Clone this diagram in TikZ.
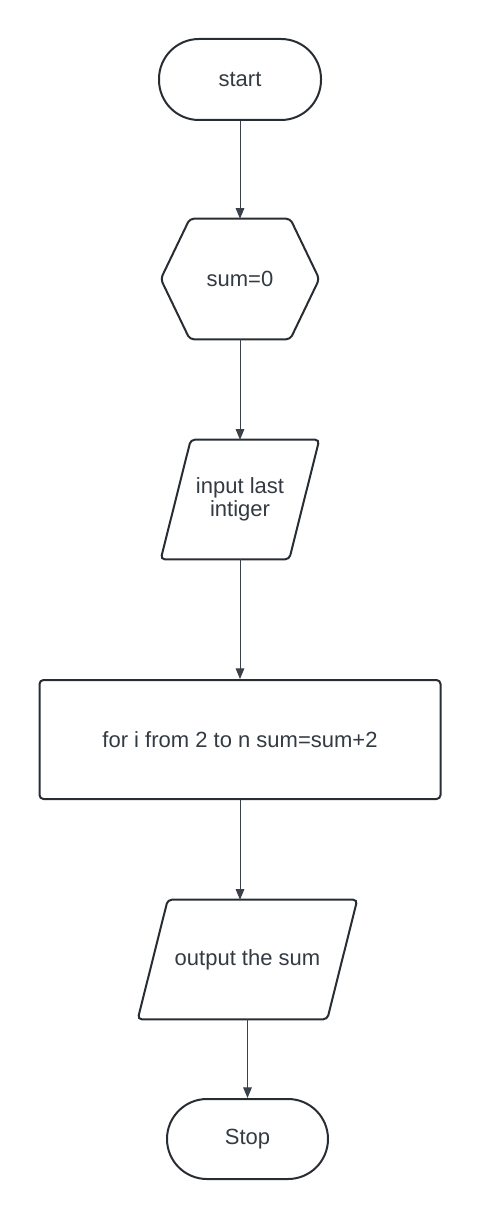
\documentclass[tikz,border=0pt]{standalone}
\usepackage{fontspec}
\setmainfont{Liberation Sans}
\usetikzlibrary{arrows.meta}
\definecolor{linecol}{HTML}{282C33}
\definecolor{textcol}{HTML}{333A42}
\definecolor{arrcol}{HTML}{3A414A}

\begin{document}
\begin{tikzpicture}[x=0.75pt, y=-0.75pt,
	every node/.style={font=\fontsize{16.5pt}{17.5pt}\selectfont, text=textcol},
	term/.style={draw=linecol, line width=1.5pt, rounded corners=30pt, minimum width=121.5pt, minimum height=60.75pt},
	box/.style={draw=linecol, line width=1.5pt, rounded corners=3pt, minimum width=300.75pt, minimum height=89.25pt},
	blank/.style={inner sep=0pt},
	outline/.style={draw=linecol, line width=1.5pt, rounded corners=3pt},
	arr/.style={draw=arrcol, line width=0.75pt, -{Triangle[length=8pt, width=6.5pt]}}]
	\useasboundingbox (0,0) rectangle (480,1220);

	% Nodes
	\node[term] (start) at (240,79.5) {start};
	\node[blank, minimum width=118.5pt, minimum height=90pt] (init) at (240,279) {sum=0};
	\node[blank, minimum width=118.5pt, minimum height=89.25pt, align=center] (inp) at (240,499.5) {input last\\intiger};
	\node[box] (loop) at (240,739.5) {for i from 2 to n sum=sum+2};
	\node[blank, minimum width=164.25pt, minimum height=89.25pt] (outp) at (247.5,959.5) {output the sum};
	\node[term, minimum width=120.75pt, minimum height=60pt] (stop) at (247.5,1139) {Stop};

	% Hexagon
	\draw[outline] (init.west) -- ([xshift=21.75pt]init.north west) -- ([xshift=-21.75pt]init.north east)
		-- (init.east) -- ([xshift=-21.75pt]init.south east) -- ([xshift=21.75pt]init.south west) -- cycle;

	% Parallelograms
	\draw[outline] ([xshift=22.5pt]inp.north west) -- (inp.north east)
		-- ([xshift=-22.5pt]inp.south east) -- (inp.south west) -- cycle;
	\draw[outline] ([xshift=22.5pt]outp.north west) -- (outp.north east)
		-- ([xshift=-22.5pt]outp.south east) -- (outp.south west) -- cycle;

	% Arrows
	\draw[arr] (start) -- (init);
	\draw[arr] (init) -- (inp);
	\draw[arr] (inp) -- (loop);
	\draw[arr] (loop.south) -- (loop.south |- outp.north);
	\draw[arr] (outp) -- (stop);
\end{tikzpicture}
\end{document}
